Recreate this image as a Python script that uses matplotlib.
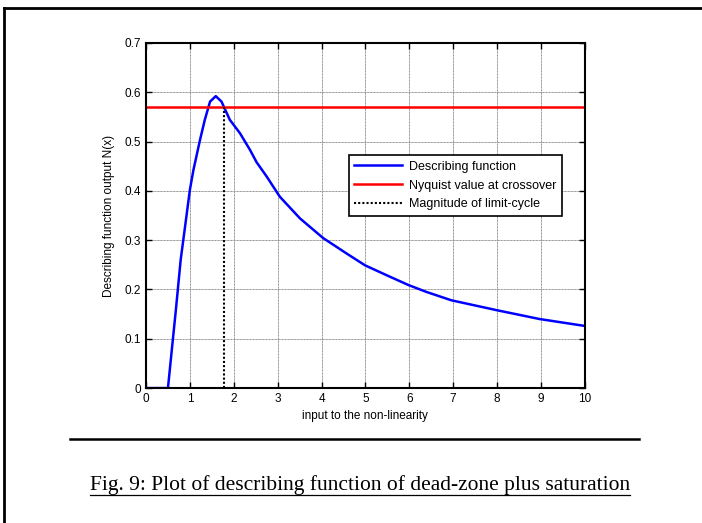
import matplotlib
matplotlib.use("Agg")
import matplotlib.pyplot as plt
from matplotlib.lines import Line2D

# values
x_df = [0, 0.5, 0.61, 0.68, 0.79, 0.91, 1.0, 1.08, 1.23, 1.34, 1.46, 1.59, 1.72, 1.91,
        2.14, 2.37, 2.52, 2.75, 3.05, 3.51, 4.04, 4.57, 4.99, 5.48, 5.98, 6.39, 6.96,
        7.99, 8.97, 10.0]
y_df = [0, 0, 0.097, 0.158, 0.26, 0.341, 0.402, 0.442, 0.503, 0.544, 0.581, 0.592, 0.581,
        0.544, 0.517, 0.483, 0.458, 0.429, 0.388, 0.344, 0.304, 0.273, 0.249, 0.229,
        0.209, 0.195, 0.178, 0.158, 0.140, 0.126]
nyquist_value = 0.57
limit_cycle_x = 1.78

plt.rcParams['font.family'] = ['Liberation Sans', 'DejaVu Sans']

fig = plt.figure(figsize=(7.02, 5.23), dpi=100)
ax = fig.add_axes([0.208, 0.258, 0.625, 0.660])

ax.plot(x_df, y_df, color='blue', lw=1.8, label='Describing function')
ax.axhline(nyquist_value, color='red', lw=1.8, label='Nyquist value at crossover')
ax.plot([limit_cycle_x, limit_cycle_x], [0, nyquist_value], color='black', lw=1.5,
        linestyle=(0, (1, 1)), label='Magnitude of limit-cycle')

ax.set_xlim(0, 10)
ax.set_ylim(0, 0.7)
ax.set_xticks(range(0, 11))
ax.set_yticks([0, 0.1, 0.2, 0.3, 0.4, 0.5, 0.6, 0.7])
ax.set_yticklabels(['0', '0.1', '0.2', '0.3', '0.4', '0.5', '0.6', '0.7'])
ax.grid(True, color='0.55', linestyle=(0, (1, 0.5)), lw=0.7)
ax.tick_params(direction='in', top=True, right=True, length=4, labelsize=8.5, width=1)
for s in ax.spines.values():
    s.set_linewidth(1.5)
ax.set_xlabel('input to the non-linearity', fontsize=8.5, labelpad=4)
ax.set_ylabel('Describing function output N(x)', fontsize=8.5, labelpad=7)

leg = ax.legend(loc='upper left', bbox_to_anchor=(0.462, 0.675), borderaxespad=0,
                fontsize=9, fancybox=False, edgecolor='black', framealpha=1,
                handlelength=3.8, borderpad=0.45, labelspacing=0.55, handletextpad=0.6)
leg.get_frame().set_linewidth(1.2)

# page decoration: border, separator and caption
fig.add_artist(Line2D([4 / 702, 4 / 702], [0, 1 - 8 / 523], color='black', lw=2))
fig.add_artist(Line2D([4 / 702, 1], [1 - 8 / 523, 1 - 8 / 523], color='black', lw=2))
fig.add_artist(Line2D([70 / 702, 639 / 702], [1 - 439 / 523, 1 - 439 / 523],
                      color='black', lw=1.8))
cap = fig.text(360 / 702, 1 - 490 / 523,
               'Fig. 9: Plot of describing function of dead-zone plus saturation',
               ha='center', va='baseline', fontsize=15.5, family='Liberation Serif')
fig.canvas.draw()
bb = cap.get_window_extent().transformed(fig.transFigure.inverted())
fig.add_artist(Line2D([bb.x0, bb.x1], [1 - 495 / 523, 1 - 495 / 523], color='black', lw=0.9))

fig.savefig('out.png', dpi=100)
